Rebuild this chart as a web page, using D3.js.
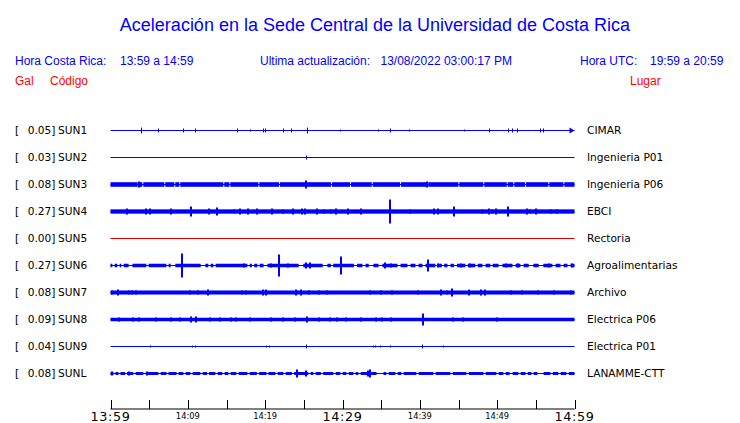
<!DOCTYPE html>
<html><head><meta charset="utf-8">
<script src="https://cdn.jsdelivr.net/npm/d3@7"></script>
<style>body{margin:0;background:#fff}svg{display:block}</style>
</head><body>
<svg id="chart" width="740" height="423"></svg>
<script>
// ---------- data ----------
const title = "Aceleración en la Sede Central de la Universidad de Costa Rica";
const localLabel = "Hora Costa Rica:", localRange = "13:59 a 14:59";
const updateLabel = "Ultima actualización:", updateValue = "13/08/2022 03:00:17 PM";
const utcLabel = "Hora UTC:", utcRange = "19:59 a 20:59";
const codes  = ["SUN1","SUN2","SUN3","SUN4","SUN5","SUN6","SUN7","SUN8","SUN9","SUNL"];
const peaks  = ["0.05","0.03","0.08","0.27","0.00","0.27","0.08","0.09","0.04","0.08"];
const places = ["CIMAR","Ingenieria P01","Ingenieria P06","EBCI","Rectoria","Agroalimentarias","Archivo","Electrica P06","Electrica P01","LANAMME-CTT"];
// background noise half-amplitude (normalised to the row half-height)
const noise  = [0.04,0.04,0.17,0.16,0.04,0.13,0.15,0.13,0.04,0.11];
// spikes: [minutes after 13:59, half-amplitude]
const spikes1 = [[3.88,0.2],[6.12,0.18],[9.35,0.18],[10.9,0.18],[16.33,0.18],[18.0,0.1],[19.7,0.18],[19.95,0.18],[22.28,0.18],[23.3,0.15],[25.4,0.2],[29.65,0.08],[34.57,0.1],[36.1,0.12],[38.57,0.08],[45.7,0.1],[48.9,0.15],[51.4,0.18],[51.9,0.12],[52.5,0.15],[55.6,0.18],[55.9,0.15]];
const spikes2 = [[25.3,0.15]];
const spikes3 = [[25.3,0.32],[3.7,0.19],[40.9,0.19]];
const spikes4 = [[2.16,0.22],[4.62,0.2],[5.13,0.2],[7.8,0.2],[10.38,0.4],[12.71,0.2],[13.71,0.32],[15.94,0.18],[16.81,0.22],[17.81,0.2],[18.88,0.2],[20.91,0.22],[22.28,0.18],[23.54,0.2],[24.79,0.2],[25.13,0.2],[26.73,0.2],[27.58,0.18],[28.45,0.18],[29.1,0.22],[30.69,0.2],[32.42,0.2],[36.12,0.88],[38.79,0.18],[41.81,0.2],[42.33,0.2],[44.48,0.38],[47.98,0.18],[48.88,0.2],[49.27,0.18],[49.79,0.2],[51.38,0.4],[53.88,0.2],[54.31,0.18],[54.96,0.2],[56.9,0.17],[57.77,0.17]];
const spikes5 = [];
const spikes6 = [[9.22,0.87],[17.24,0.16],[20.69,0.16],[21.76,0.78],[22.98,0.15],[25.22,0.2],[25.86,0.2],[29.81,0.63],[35.56,0.2],[36.21,0.18],[41.03,0.48],[42.41,0.18],[45.26,0.18],[46.55,0.16],[51.08,0.16],[52.63,0.16],[56.64,0.16],[59.7,0.16]];
const spikes7 = [[0.22,0.18],[1.0,0.25],[2.37,0.18],[2.72,0.18],[3.36,0.17],[10.34,0.16],[11.29,0.16],[12.63,0.19],[17.03,0.17],[17.46,0.17],[19.66,0.19],[20.17,0.19],[24.05,0.23],[24.57,0.23],[25.64,0.17],[26.94,0.16],[28.02,0.16],[33.62,0.17],[35.0,0.17],[36.34,0.17],[39.74,0.17],[42.8,0.19],[43.51,0.18],[44.19,0.32],[46.42,0.22],[47.97,0.19],[48.49,0.19],[51.73,0.17],[53.24,0.17],[55.31,0.17],[57.33,0.17],[59.61,0.17]];
const spikes8 = [[1.07,0.16],[2.94,0.16],[3.66,0.16],[5.82,0.16],[7.76,0.16],[9.05,0.15],[10.35,0.2],[11.0,0.25],[12.93,0.16],[14.22,0.16],[15.52,0.16],[16.29,0.16],[18.1,0.15],[20.69,0.16],[22.37,0.18],[23.92,0.15],[25.41,0.25],[26.9,0.17],[28.32,0.15],[29.35,0.15],[30.39,0.15],[32.33,0.15],[34.27,0.16],[35.17,0.16],[36.21,0.15],[40.39,0.45],[44.23,0.15],[45.52,0.15],[49.92,0.18]];
const spikes9 = [[5.17,0.1],[10.57,0.08],[10.9,0.08],[20.13,0.1],[20.47,0.08],[25.3,0.15],[33.92,0.08],[34.18,0.08],[34.91,0.1],[36.12,0.1],[40.3,0.15],[42.97,0.08]];
const spikesL = [[0.22,0.15],[2.37,0.18],[4.66,0.18],[24.14,0.27],[25.22,0.25],[33.36,0.2],[33.62,0.3]];
// quiet stretches where the trace thins: [centre minute, length in minutes]
const gaps3 = [[3.58,0.12],[4.18,0.12],[7.02,0.12],[8.31,0.12],[8.96,0.12],[14.65,0.12],[15.43,0.12],[19.18,0.12],[21.85,0.12],[28.58,0.12],[31.04,0.12],[33.84,0.12],[37.5,0.12],[41.03,0.12],[45.04,0.12],[48.27,0.12],[51.3,0.12],[52.15,0.12],[53.67,0.12],[56.68,0.12],[58.62,0.12]];
const gaps6 = [[0.39,0.3],[1.03,0.3],[1.55,0.3],[2.59,0.5],[4.78,0.3],[7.37,0.3],[8.08,0.6],[11.96,0.6],[12.8,0.3],[13.45,0.3],[17.85,0.3],[18.43,0.3],[19.14,0.3],[20.04,0.5],[24.63,0.6],[27.74,0.6],[28.64,0.3],[31.68,0.4],[32.78,0.4],[33.69,0.6],[34.91,0.5],[37.31,0.4],[38.6,0.4],[39.63,0.4],[40.54,0.4],[42.16,0.3],[43.0,0.3],[43.77,0.4],[44.61,0.4],[46.04,0.3],[47.33,0.3],[48.3,0.4],[49.27,0.3],[50.43,0.5],[52.18,0.4],[53.21,0.4],[54.38,0.6],[55.67,0.6],[57.35,0.4],[58.39,0.4],[59.29,0.4]];
const gapsL = [[0.52,0.25],[1.16,0.25],[2.0,0.25],[3.1,0.3],[4.4,0.3],[6.34,0.3],[7.37,0.25],[8.67,0.25],[9.57,0.3],[10.47,0.3],[11.77,0.3],[12.61,0.25],[13.71,0.3],[14.61,0.3],[15.39,0.3],[16.42,0.3],[17.85,0.3],[19.07,0.3],[20.3,0.25],[21.47,0.3],[22.5,0.3],[23.6,0.3],[25.73,0.3],[26.38,0.3],[27.35,0.3],[28.97,0.3],[29.87,0.3],[30.65,0.3],[31.55,0.3],[32.2,0.3],[34.85,0.9],[35.82,0.3],[36.98,0.3],[37.76,0.3],[39.7,0.3],[41.9,0.3],[44.1,0.3],[46.17,0.3],[48.37,0.3],[50.05,0.3],[50.95,0.3],[51.8,0.4],[52.89,0.3],[53.8,0.3],[54.57,0.3],[55.6,0.8],[57.03,0.3],[58.06,0.3],[59.1,0.3]];
const spikeSets = [spikes1,spikes2,spikes3,spikes4,spikes5,spikes6,spikes7,spikes8,spikes9,spikesL];
const gapSets   = [[],[],gaps3,[],[],gaps6,[],[],[],gapsL];
const tickMinutes = [0,5,10,15,20,25,30,35,40,45,50,55,60];
const tickLabels  = ["13:59","","14:09","","14:19","","14:29","","14:39","","14:49","","14:59"];
const majorTicks  = ["13:59","14:29","14:59"];

// ---------- drawing ----------
const svg = d3.select("#chart");
const BLUE = "#0000ff", RED = "#ff0000";
const x = d3.scaleLinear().domain([0,60]).range([110.5,574.5]);
const row = d3.scaleBand().domain(codes).range([117,387]);
const rowC = c => row(c) + row.bandwidth()/2;
const amp = d3.scaleLinear().domain([-1,1]).range([row.bandwidth()/2,-row.bandwidth()/2]);

svg.append("text").attr("x",375).attr("y",30.5).attr("text-anchor","middle")
  .attr("font-family","Liberation Sans, Arial, sans-serif").attr("font-size",18)
  .attr("fill",BLUE).text(title);

const hdr = svg.append("g").attr("font-family","Liberation Sans, Arial, sans-serif").attr("font-size",12);
[[15,65,localLabel,BLUE],[120,65,localRange,BLUE],[260,65,updateLabel,BLUE],[380.5,65,updateValue,BLUE],
 [580,65,utcLabel,BLUE],[650,65,utcRange,BLUE],[15,85,"Gal",RED],[50,85,"Código",RED],[630,85,"Lugar",RED]]
 .forEach(([tx,ty,t,c])=>hdr.append("text").attr("x",tx).attr("y",ty).attr("fill",c).text(t));

const lbl = svg.append("g").attr("font-family","DejaVu Sans, sans-serif").attr("font-size",10.6).attr("fill","#000");
codes.forEach((c,i)=>{
  const yb = rowC(c)+3.8;
  lbl.append("text").attr("x",15).attr("y",yb).text("[");
  lbl.append("text").attr("x",55.5).attr("y",yb).attr("text-anchor","end").text(peaks[i]+"]");
  lbl.append("text").attr("x",58).attr("y",yb).text(c);
  lbl.append("text").attr("x",587).attr("y",yb).text(places[i]);
});

codes.forEach((c,i)=>{
  const col = peaks[i]==="0.00" ? "#e00000" : BLUE;
  const thin = noise[i] <= 0.05;
  const g = svg.append("g").attr("transform",`translate(0,${rowC(c)})`).attr("fill",col);
  g.append("rect").attr("x",x(0)).attr("width",x(60)-x(0)).attr("y",-0.5).attr("height",1);
  if (!thin) {
    const gp = gapSets[i].slice().sort((a,b)=>a[0]-b[0]);
    let s = 0; const segs = [];
    gp.forEach(([m,w])=>{ segs.push([s,m-w/2]); s = m+w/2; });
    segs.push([s,60]);
    g.selectAll("rect.band").data(segs).join("rect").attr("class","band")
      .attr("x",d=>x(d[0])).attr("width",d=>Math.max(0,x(d[1])-x(d[0])))
      .attr("y",amp(noise[i])).attr("height",amp(-noise[i])-amp(noise[i]));
  }
  const w = thin ? 1 : 2;
  g.selectAll("rect.sp").data(spikeSets[i]).join("rect").attr("class","sp")
    .attr("x",d=>Math.round(x(d[0]))-w/2+ (thin?0.5:0)).attr("width",w)
    .attr("y",d=>Math.round(amp(d[1]))).attr("height",d=>Math.round(amp(-d[1]))-Math.round(amp(d[1])));
  if (i===0) {
    g.append("path").attr("d",`M${x(60)-5},-3L${x(60)},0L${x(60)-5},3Z`);
  }
});

// time axis
const ax = svg.append("g").attr("transform","translate(0,409)");
ax.append("line").attr("x1",x(0)).attr("x2",x(60)).attr("stroke","#000");
ax.selectAll("line.t").data(tickMinutes).join("line").attr("class","t")
  .attr("x1",d=>Math.round(x(d))+0.5).attr("x2",d=>Math.round(x(d))+0.5).attr("y1",0).attr("y2",-9).attr("stroke","#000");
ax.selectAll("text").data(tickMinutes.filter((d,i)=>tickLabels[i]!=="")).join("text")
  .attr("x",d=>x(d)).attr("text-anchor","middle").attr("font-family","DejaVu Sans, sans-serif")
  .attr("fill","#000")
  .each(function(d){
    const t = tickLabels[tickMinutes.indexOf(d)];
    const big = majorTicks.includes(t);
    d3.select(this).attr("y",big?12:9.5).attr("font-size",big?12.8:8.3)
      .attr("letter-spacing",big?0.6:0).text(t);
  });
</script>
</body></html>
